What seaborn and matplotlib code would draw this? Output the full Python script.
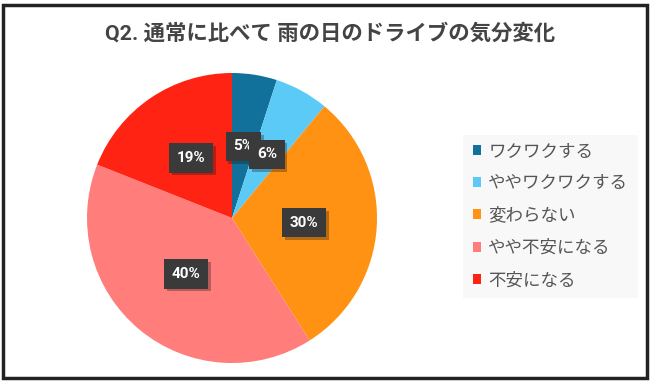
import matplotlib
matplotlib.use("Agg")
import matplotlib.pyplot as plt
import matplotlib.patheffects as pe
from matplotlib.patches import Rectangle
import seaborn as sns

# Q2 answers (percent)
labels = ["ワクワクする", "ややワクワクする", "変わらない", "やや不安になる", "不安になる"]
values = [5, 6, 30, 40, 19]
colors = ["#11719a", "#5ccaf6", "#ff9212", "#ff7d7b", "#ff2314"]
title = "Q2. 通常に比べて 雨の日のドライブの気分変化"

sns.set_theme(style="white")
plt.rcParams['font.family'] = ['Roboto', 'Noto Sans CJK JP', 'DejaVu Sans']

W, H = 653, 385
fig = plt.figure(figsize=(W / 100, H / 100), dpi=100)
fig.patch.set_facecolor("white")

# pie centre (232, 218) px, radius 145 px
cx, cy, r = 232, 218, 145
ax = fig.add_axes([(cx - r) / W, (H - cy - r) / H, 2 * r / W, 2 * r / H])

wedges, texts, autotexts = ax.pie(
    values, colors=colors, startangle=90, counterclock=False,
    autopct="%d%%", pctdistance=0.5, radius=1.0,
    wedgeprops=dict(linewidth=0),
    textprops=dict(color="white", fontsize=11, fontweight="bold"),
)
for t in autotexts:
    t.set_bbox(dict(boxstyle="square,pad=0.5", facecolor="#3a3a3a",
                    edgecolor="none",
                    path_effects=[pe.withSimplePatchShadow(offset=(2, -2), alpha=0.3)]))
ax.set_xlim(-1, 1)
ax.set_ylim(-1, 1)
ax.set_aspect("equal")

fig.text(330 / W, 1 - 33 / H, title, ha="center", va="center",
         fontsize=15.4, fontweight="bold", color="#444444")

leg = fig.legend(wedges, labels, loc="upper left",
                 bbox_to_anchor=(463 / W, 1 - 135 / H),
                 frameon=True, fancybox=False, fontsize=12.6,
                 handlelength=0.5, handleheight=0.5, handletextpad=0.4,
                 labelspacing=0.92, borderpad=0.55, borderaxespad=0,
                 labelcolor="#555555")
leg.get_frame().set_facecolor("#f7f7f7")
leg.get_frame().set_edgecolor("none")

# outer frame
fig.add_artist(Rectangle((3 / W, 1 - 378 / H), 644 / W, 373 / H,
                         transform=fig.transFigure, fill=False,
                         edgecolor="#222222", linewidth=2.5))

fig.savefig("out.png", dpi=100)
